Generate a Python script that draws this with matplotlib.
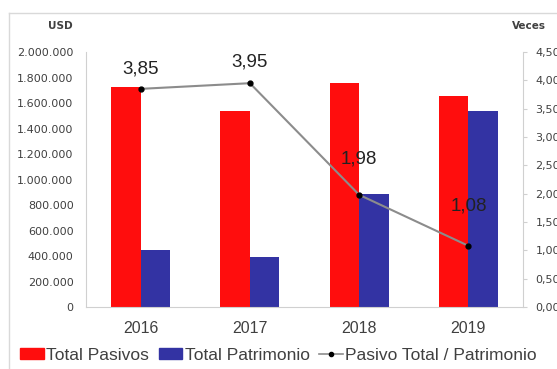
import matplotlib.pyplot as plt
import numpy as np
from matplotlib.patches import Patch
from matplotlib.lines import Line2D

years = ['2016', '2017', '2018', '2019']
pasivos = [1725000, 1537000, 1757000, 1655000]
patrimonio = [448000, 389000, 887000, 1537000]
ratio = [3.85, 3.95, 1.98, 1.08]
ratio_labels = ['3,85', '3,95', '1,98', '1,08']
left_ticks = [0, 200000, 400000, 600000, 800000, 1000000, 1200000,
              1400000, 1600000, 1800000, 2000000]
right_ticks = [0, 0.5, 1.0, 1.5, 2.0, 2.5, 3.0, 3.5, 4.0, 4.5]

red = '#ff0d0d'
blue = '#3333a3'
txt = '#404040'
axc = '#d0d0d0'

plt.rcParams['font.family'] = ['DejaVu Sans']

fig = plt.figure(figsize=(5.57, 3.69), dpi=100)
ax = fig.add_axes([0.1544, 0.168, 0.7846, 0.691])

x = np.arange(len(years))
w = 0.27
ax.bar(x - w / 2, pasivos, w, color=red, zorder=2)
ax.bar(x + w / 2, patrimonio, w, color=blue, zorder=2)
ax.set_xlim(-0.5, 3.5)
ax.set_ylim(0, 2000000)
ax.set_yticks(left_ticks)
ax.set_yticklabels([f'{v:,}'.replace(',', '.') for v in left_ticks])
ax.set_xticks(x)
ax.set_xticklabels(years, family='Liberation Sans', fontsize=11.5)
ax.tick_params(axis='y', length=0, pad=9, labelsize=8, colors=txt)
ax.tick_params(axis='x', length=0, pad=10, colors=txt)
for s in ['top', 'right']:
    ax.spines[s].set_visible(False)
for s in ['left', 'bottom']:
    ax.spines[s].set_color(axc)

ax2 = ax.twinx()
ax2.plot(x, ratio, color='#8c8c8c', lw=1.5, marker='o', ms=3.5,
         mfc='black', mec='black', zorder=3)
ax2.set_ylim(0, 4.5)
ax2.set_yticks(right_ticks)
ax2.set_yticklabels([f'{v:.2f}'.replace('.', ',') for v in right_ticks])
ax2.tick_params(axis='y', length=3, pad=6, labelsize=8, colors=txt,
                color=axc)
for s in ['top', 'left', 'bottom']:
    ax2.spines[s].set_visible(False)
ax2.spines['right'].set_color(axc)

offsets = [20, 21, 36, 40]
for xi, v, lab, off in zip(x, ratio, ratio_labels, offsets):
    ax2.annotate(lab, (xi, v), xytext=(0, off), textcoords='offset pixels',
                 ha='center', va='center', fontsize=13.5,
                 family='Liberation Sans', color='#222222')

fig.text(60 / 557, 1 - 26 / 369, 'USD', ha='center', va='center',
         fontsize=7.5, fontweight='bold', color=txt)
fig.text(529 / 557, 1 - 26 / 369, 'Veces', ha='center', va='center',
         fontsize=7.5, fontweight='bold', color=txt)

# outer chart frame (top and left edges)
fig.add_artist(Line2D([9 / 557, 1], [1 - 13 / 369, 1 - 13 / 369],
                      color='#d9d9d9', lw=1, transform=fig.transFigure))
fig.add_artist(Line2D([9 / 557, 9 / 557], [0, 1 - 13 / 369],
                      color='#d9d9d9', lw=1, transform=fig.transFigure))

handles = [Patch(color=red), Patch(color=blue),
           Line2D([], [], color='#8c8c8c', lw=1.2, marker='o', ms=3,
                  mfc='black', mec='black')]
labels = ['Total Pasivos', 'Total Patrimonio', 'Pasivo Total / Patrimonio']
fig.legend(handles, labels, loc='center left',
           bbox_to_anchor=(0.024, 1 - 355 / 369), borderaxespad=0,
           ncol=3, frameon=False, handlelength=1.35,
           handleheight=0.6, handletextpad=0.15, columnspacing=0.55,
           prop={'family': 'Liberation Sans', 'size': 12.5}, labelcolor=txt)

fig.savefig('out.png', dpi=100)
